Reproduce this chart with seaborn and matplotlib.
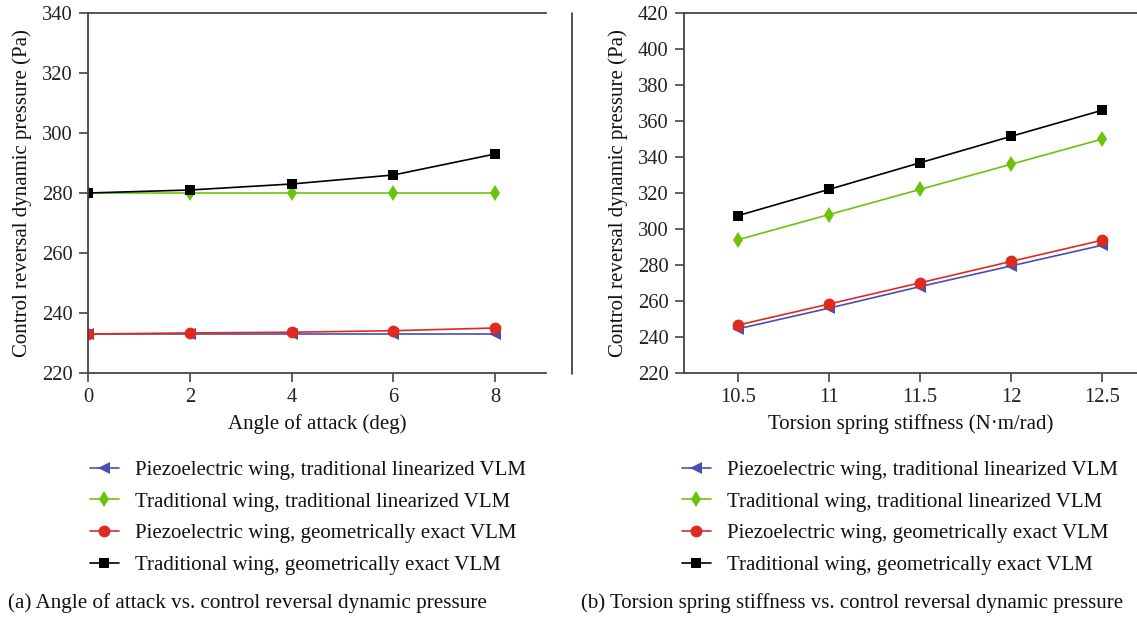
import matplotlib
matplotlib.use("Agg")
import matplotlib.pyplot as plt
import seaborn as sns
import pandas as pd

# ---------------- data ----------------
angle_of_attack = [0, 2, 4, 6, 8]
a_piezo_linear = [233, 233, 233, 233, 233]
a_trad_linear = [280, 280, 280, 280, 280]
a_piezo_exact = [233, 233.35, 233.6, 234.1, 235.0]
a_trad_exact = [280, 281, 283, 286, 293]

stiffness = [10.5, 11, 11.5, 12, 12.5]
b_piezo_linear = [244.5, 256, 268, 279.5, 291]
b_trad_linear = [294, 308, 322, 336, 350]
b_piezo_exact = [246.6, 258.3, 270.1, 282.0, 293.8]
b_trad_exact = [307.4, 322, 336.8, 351.5, 366]

series_labels = [
    "Piezoelectric wing, traditional linearized VLM",
    "Traditional wing, traditional linearized VLM",
    "Piezoelectric wing, geometrically exact VLM",
    "Traditional wing, geometrically exact VLM",
]
a_ticks = [0, 2, 4, 6, 8]
a_yticks = [220, 240, 260, 280, 300, 320, 340]
b_ticks = [10.5, 11, 11.5, 12, 12.5]
b_tick_labels = ["10.5", "11", "11.5", "12", "12.5"]
b_yticks = [220, 240, 260, 280, 300, 320, 340, 360, 380, 400, 420]

# ---------------- style ----------------
sns.set_theme(style="ticks")
plt.rcParams["font.family"] = ["Liberation Serif", "DejaVu Serif"]
plt.rcParams["axes.edgecolor"] = "#444444"
plt.rcParams["xtick.color"] = "#444444"
plt.rcParams["ytick.color"] = "#444444"
plt.rcParams["xtick.labelcolor"] = "#222222"
plt.rcParams["ytick.labelcolor"] = "#222222"

colors = ["#4650B0", "#6CC40A", "#E02A1E", "#000000"]
markers = ["<", "d", "o", "s"]
msizes = [8.5, 8.5, 8.5, 7]

fig = plt.figure(figsize=(11.37, 6.18), dpi=100)
W, H = 1137, 618
axA = fig.add_axes([88 / W, (H - 373) / H, 458 / W, 360 / H])
axB = fig.add_axes([684 / W, (H - 373) / H, 453 / W, 360 / H])


def draw(ax, x, ys):
    for y, lab, c, m, ms in zip(ys, series_labels, colors, markers, msizes):
        df = pd.DataFrame({"x": x, "y": y})
        sns.lineplot(data=df, x="x", y="y", ax=ax, color=c, marker=m,
                     markersize=ms, markeredgewidth=0, linewidth=1.2,
                     label=lab, legend=False)


draw(axA, angle_of_attack, [a_piezo_linear, a_trad_linear, a_piezo_exact, a_trad_exact])
draw(axB, stiffness, [b_piezo_linear, b_trad_linear, b_piezo_exact, b_trad_exact])

for ax in (axA, axB):
    ax.spines["right"].set_visible(False)
    for s in ("left", "top", "bottom"):
        ax.spines[s].set_linewidth(1.3)
    ax.tick_params(axis="both", direction="out", length=6.5, width=1.2,
                   labelsize=14.8, pad=4.5)
    ax.set_ylabel("Control reversal dynamic pressure (Pa)", fontsize=15,
                  color="#111111", labelpad=7)

axA.set_xlim(0, 9)
axA.set_ylim(220, 340)
axA.set_xticks(a_ticks)
axA.set_yticks(a_yticks)
axA.set_xlabel("Angle of attack (deg)", fontsize=15, color="#111111", labelpad=5)

axB.set_xlim(10.205, 12.69)
axB.set_ylim(220, 420)
axB.set_xticks(b_ticks)
axB.set_xticklabels(b_tick_labels)
axB.set_yticks(b_yticks)
axB.set_xlabel("Torsion spring stiffness (N\u00b7m/rad)", fontsize=15,
               color="#111111", labelpad=5)

# separator line between panels
fig.add_artist(plt.Line2D([572 / W, 572 / W], [(H - 374) / H, (H - 13) / H],
                          color="#333333", linewidth=1.2))

# legends
hA, lA = axA.get_legend_handles_labels()
hB, lB = axB.get_legend_handles_labels()
common = dict(frameon=False, fontsize=15, handlelength=1.35, handletextpad=0.8,
              labelspacing=0.58, borderpad=0, loc="upper left", labelcolor="#111111")
fig.legend(hA, lA, bbox_to_anchor=(80 / W, (H - 450) / H), **common)
fig.legend(hB, lB, bbox_to_anchor=(672 / W, (H - 450) / H), **common)

# captions
fig.text(8 / W, (H - 603) / H, "(a) Angle of attack vs. control reversal dynamic pressure",
         fontsize=15.2, va="center", ha="left", color="#111111")
fig.text(581 / W, (H - 603) / H,
         "(b) Torsion spring stiffness vs. control reversal dynamic pressure",
         fontsize=15, va="center", ha="left", color="#111111")

fig.savefig("out.png", dpi=100)
